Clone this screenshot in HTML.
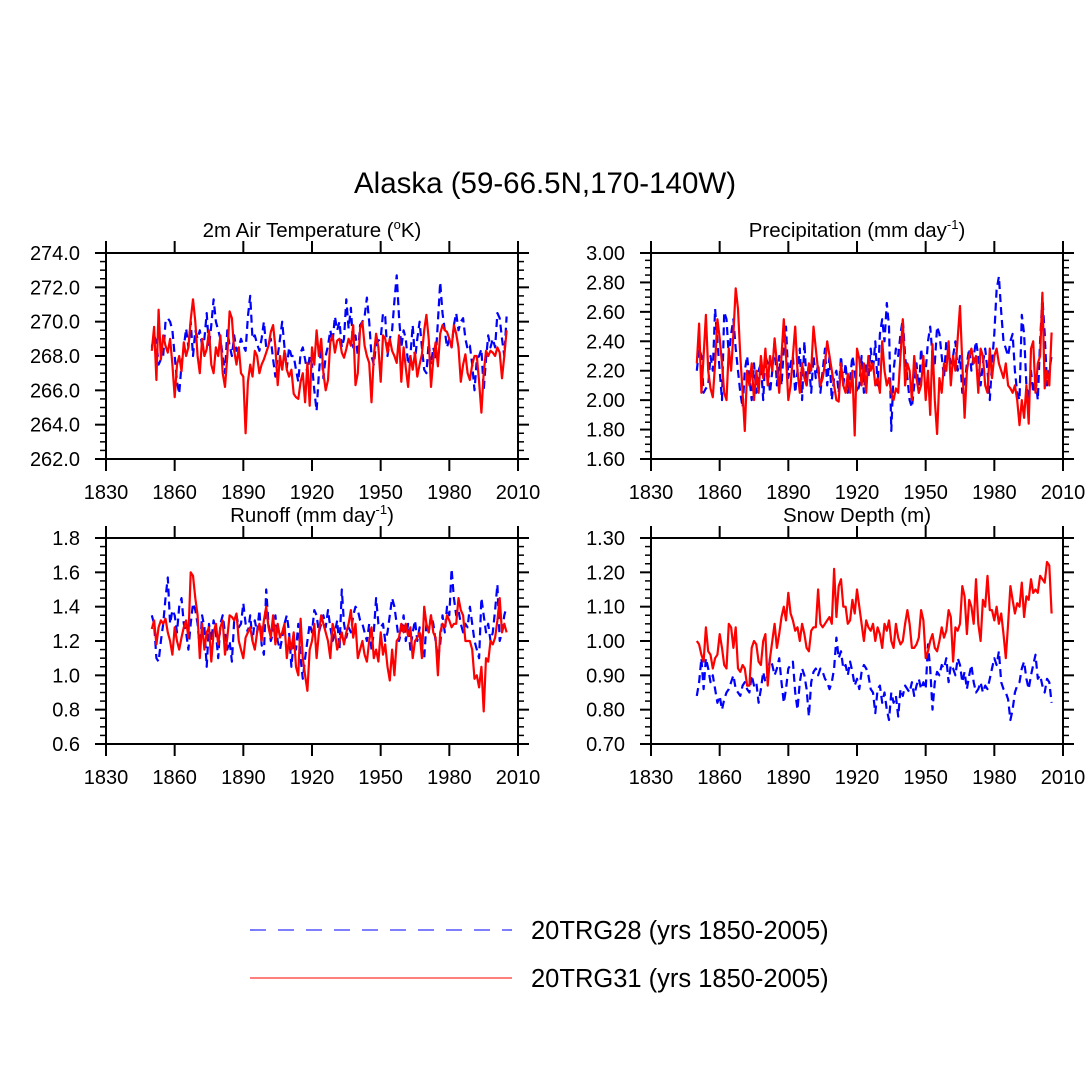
<!DOCTYPE html>
<html><head><meta charset="utf-8"><style>
html,body{margin:0;padding:0;background:#fff;overflow:hidden;width:1090px;height:1090px;}
svg{display:block;}
svg text{font-family:"Liberation Sans",sans-serif;fill:#000;}
</style></head><body>
<svg id="chart" width="1090" height="1090" viewBox="0 0 1090 1090" xmlns="http://www.w3.org/2000/svg">
<rect width="1090" height="1090" fill="#fff"/>
<text x="545" y="193" font-size="29.5" text-anchor="middle">Alaska (59-66.5N,170-140W)</text>
<g>
<line x1="250" y1="930" x2="512" y2="930" stroke="#3030ff" stroke-width="1.3" stroke-dasharray="16 12"/>
<text x="531" y="939" font-size="25.5">20TRG28 (yrs 1850-2005)</text>
<line x1="250" y1="978" x2="512" y2="978" stroke="#ff3030" stroke-width="1.3"/>
<text x="531" y="987" font-size="25.5">20TRG31 (yrs 1850-2005)</text>
</g>
<g id="panels"></g>
</svg>
<script>
const startYear = 1850;
const tempBlue = [268.5,269.2,268.8,267.5,267.8,268.0,270.0,270.2,270.0,269.5,268.0,266.5,265.8,267.5,268.5,269.6,268.5,270.0,268.0,269.5,269.0,269.5,268.6,269.0,270.5,268.5,269.8,271.3,270.0,269.5,269.0,268.0,267.0,269.5,268.6,268.0,269.2,268.3,268.5,269.0,268.6,268.3,270.3,271.5,269.0,269.2,268.7,268.3,269.0,270.0,268.5,268.7,269.0,267.8,266.8,268.0,269.0,270.0,268.5,267.3,268.5,268.0,268.0,267.2,266.5,268.2,268.5,267.8,267.0,268.0,267.5,266.0,264.8,267.0,268.5,266.7,268.0,268.6,269.5,268.8,270.3,269.5,270.0,268.5,269.0,271.3,269.6,270.8,268.5,269.2,268.0,269.8,270.0,270.3,271.4,270.0,268.0,267.5,268.7,268.9,269.0,270.5,270.3,268.0,269.0,269.5,271.2,272.7,270.3,268.5,269.5,269.0,267.5,268.0,269.8,267.8,269.0,270.0,268.5,267.2,267.0,268.8,267.5,268.5,267.8,270.0,272.3,270.5,269.5,268.5,269.0,268.5,269.8,270.5,269.5,270.0,270.2,269.0,268.4,268.6,267.5,266.0,267.8,268.0,268.4,266.0,267.8,269.2,268.5,269.0,268.5,270.5,270.2,269.0,268.0,270.3];
const tempRed = [268.3,269.7,266.6,270.7,267.8,269.2,268.6,268.2,269.0,267.5,265.6,267.5,268.0,267.1,268.8,268.0,268.5,270.1,271.3,270.0,268.0,267.0,269.0,268.0,268.4,269.5,267.5,267.0,268.5,268.0,269.2,267.0,266.2,268.0,270.6,270.2,268.3,267.5,268.5,267.0,266.8,263.5,266.5,267.5,266.8,268.3,268.0,267.0,267.5,267.8,268.2,268.6,269.4,269.8,268.5,266.3,268.0,267.2,268.3,267.2,266.8,267.2,265.8,265.6,265.5,266.5,267.0,265.3,267.6,265.1,268.5,267.5,269.5,268.0,269.0,267.0,266.0,266.6,268.8,269.2,268.2,268.9,269.0,268.2,267.9,268.4,269.0,268.6,269.8,266.3,267.0,269.6,270.0,268.6,268.0,267.6,265.3,268.0,269.3,268.5,266.5,269.2,269.0,268.2,269.0,268.3,268.0,267.6,269.2,266.5,268.5,267.3,266.2,268.0,267.2,268.2,266.8,267.5,268.1,269.5,270.4,269.0,266.2,267.8,268.8,267.4,269.3,269.8,269.5,269.4,269.0,268.5,269.8,269.3,268.5,266.5,267.5,268.1,267.0,266.6,267.5,268.0,268.0,266.5,264.7,267.0,268.3,268.0,268.3,268.2,268.0,268.5,268.2,266.7,268.0,269.5];
const precBlue = [2.2,2.35,2.3,2.05,2.08,2.1,2.3,2.2,2.62,2.4,2.2,2.0,2.6,2.55,2.3,2.45,2.55,2.35,2.2,2.05,1.95,2.2,2.3,2.15,2.0,2.25,2.05,2.2,2.25,2.0,2.3,2.25,2.05,2.2,2.4,2.1,2.3,2.1,2.35,2.5,2.15,2.25,2.3,2.05,2.2,2.35,2.0,2.4,2.1,2.25,2.05,2.3,2.15,2.25,2.05,2.2,2.35,2.1,2.3,2.0,2.15,2.2,2.05,2.3,2.1,2.25,2.05,2.15,2.3,2.2,2.05,2.1,2.3,2.05,2.25,2.15,2.35,2.2,2.4,2.1,2.45,2.55,2.4,2.66,2.5,1.79,2.2,2.35,2.3,2.45,2.55,2.3,2.15,2.0,1.95,2.1,2.25,2.05,2.35,2.2,2.2,2.4,2.5,2.3,2.25,2.5,2.45,2.3,2.15,2.4,2.35,2.25,2.3,2.4,2.2,2.3,2.05,2.1,2.25,2.35,2.2,2.3,2.4,2.3,2.1,2.25,2.35,2.2,2.0,2.25,2.45,2.75,2.84,2.6,2.4,2.35,2.3,2.4,2.45,2.2,2.05,2.0,2.58,2.45,2.1,2.0,2.2,2.05,2.15,2.0,2.4,2.7,2.45,2.1,2.2,2.3];
const precRed = [2.25,2.52,2.05,2.3,2.58,2.2,2.08,2.02,2.25,2.55,2.42,2.25,2.05,2.0,2.35,2.2,2.45,2.76,2.62,2.3,2.05,1.79,2.2,2.1,2.25,2.0,2.2,2.05,2.3,2.15,2.35,2.1,2.3,2.2,2.42,2.25,2.05,2.3,2.55,2.3,2.0,2.1,2.3,2.5,2.2,2.05,2.25,2.15,2.1,2.25,2.2,2.5,2.35,2.2,2.1,2.15,2.25,2.4,2.3,2.2,2.1,2.0,1.99,2.25,2.1,2.05,2.18,2.05,2.2,1.76,2.35,2.28,2.1,2.25,2.05,2.3,2.2,2.25,2.1,2.15,2.05,2.4,2.2,2.1,2.15,2.05,2.0,2.08,2.05,2.3,2.55,2.1,2.25,2.2,2.0,2.3,2.15,2.05,2.1,2.3,2.0,2.2,1.9,2.38,2.0,1.77,2.15,2.05,2.25,2.2,2.4,2.1,2.3,2.2,2.42,2.64,2.25,1.88,2.2,2.3,2.35,2.25,2.3,2.05,2.35,2.3,2.1,2.05,2.35,2.15,2.3,2.35,2.25,2.2,2.15,2.25,2.1,2.08,2.05,2.1,2.0,1.83,2.0,1.88,2.1,1.84,2.35,2.4,2.05,2.25,2.3,2.73,2.08,2.2,2.1,2.46];
const runBlue = [1.35,1.3,1.1,1.08,1.2,1.3,1.45,1.57,1.3,1.38,1.35,1.25,1.4,1.45,1.3,1.25,1.15,1.3,1.42,1.38,1.3,1.15,1.35,1.28,1.05,1.3,1.2,1.32,1.25,1.1,1.3,1.35,1.25,1.15,1.2,1.08,1.32,1.35,1.28,1.3,1.42,1.3,1.25,1.35,1.2,1.32,1.25,1.38,1.18,1.12,1.5,1.3,1.2,1.25,1.35,1.2,1.15,1.22,1.3,1.35,1.25,1.05,1.2,1.15,1.3,1.1,0.98,1.1,1.2,1.3,1.25,1.38,1.35,1.25,1.3,1.35,1.28,1.38,1.28,1.2,1.25,1.32,1.15,1.5,1.3,1.22,1.28,1.25,1.35,1.4,1.38,1.32,1.3,1.25,1.2,1.3,1.15,1.25,1.45,1.3,1.28,1.3,1.2,1.25,1.35,1.45,1.4,1.3,1.2,1.25,1.35,1.2,1.3,1.15,1.25,1.32,1.2,1.28,1.15,1.1,1.3,1.25,1.35,1.3,1.2,1.1,1.18,1.35,1.25,1.4,1.35,1.62,1.45,1.35,1.38,1.3,1.25,1.3,1.28,1.4,1.3,1.2,1.15,1.1,1.45,1.35,1.25,1.3,1.2,1.25,1.38,1.53,1.2,1.25,1.35,1.4];
const runRed = [1.27,1.32,1.18,1.28,1.32,1.3,1.33,1.25,1.2,1.12,1.28,1.2,1.15,1.22,1.28,1.32,1.22,1.6,1.58,1.45,1.35,1.1,1.3,1.15,1.25,1.28,1.08,1.25,1.3,1.18,1.28,1.32,1.12,1.22,1.35,1.34,1.32,1.36,1.2,1.15,1.1,1.22,1.25,1.28,1.2,1.15,1.25,1.3,1.2,1.32,1.4,1.28,1.22,1.35,1.18,1.3,1.22,1.25,1.3,1.1,1.22,1.15,1.25,1.05,1.0,1.33,1.1,1.0,0.91,1.15,1.2,1.3,1.1,1.25,1.35,1.3,1.25,1.2,1.1,1.3,1.25,1.15,1.2,1.25,1.18,1.25,1.3,1.38,1.22,1.3,1.1,1.15,1.2,1.12,1.08,1.2,1.28,1.1,1.15,1.08,1.25,1.12,1.18,1.05,0.97,1.15,1.0,1.2,1.22,1.3,1.25,1.3,1.23,1.28,1.1,1.2,1.22,1.25,1.1,1.4,1.3,1.25,1.35,1.25,1.22,1.0,1.25,1.3,1.28,1.35,1.32,1.28,1.3,1.3,1.45,1.38,1.35,1.2,1.2,1.2,1.15,0.98,1.0,0.93,1.05,0.79,1.1,1.08,1.2,1.18,1.22,1.32,1.45,1.25,1.3,1.25];
const snowBlue = [0.84,0.88,0.95,0.86,0.95,0.92,0.88,0.90,0.86,0.82,0.84,0.80,0.83,0.85,0.86,0.88,0.90,0.86,0.85,0.84,0.87,0.88,0.86,0.85,0.90,0.87,0.88,0.82,0.86,0.91,0.88,0.90,0.95,0.93,0.90,0.92,0.95,0.88,0.82,0.86,0.92,0.93,0.94,0.85,0.80,0.88,0.92,0.90,0.86,0.78,0.88,0.91,0.92,0.90,0.92,0.91,0.89,0.88,0.86,0.88,0.92,1.01,0.95,0.97,0.92,0.93,0.90,0.94,0.91,0.87,0.89,0.86,0.91,0.93,0.92,0.90,0.86,0.85,0.79,0.86,0.87,0.82,0.85,0.80,0.77,0.85,0.82,0.84,0.78,0.86,0.84,0.87,0.86,0.85,0.88,0.84,0.87,0.89,0.86,0.88,0.86,0.99,0.92,0.80,0.88,0.91,0.90,0.93,0.92,0.95,0.88,0.93,0.92,0.90,0.95,0.93,0.88,0.91,0.86,0.90,0.93,0.88,0.85,0.86,0.88,0.85,0.87,0.86,0.89,0.92,0.95,0.93,0.97,0.88,0.86,0.85,0.83,0.77,0.80,0.85,0.87,0.88,0.92,0.94,0.89,0.86,0.90,0.93,0.96,0.89,0.90,0.87,0.85,0.89,0.88,0.82];
const snowRed = [1.00,0.99,0.96,0.94,1.04,0.97,0.96,0.92,0.95,0.96,1.02,0.98,0.93,0.92,1.05,1.04,0.98,1.04,0.92,0.91,0.93,0.92,0.87,0.87,0.98,1.00,0.99,0.94,0.93,1.00,1.02,0.87,0.95,1.00,1.05,0.98,1.02,1.07,1.10,1.06,1.14,1.08,1.06,1.03,1.04,1.00,1.05,1.02,0.98,0.97,1.03,1.04,1.04,1.15,1.05,1.04,1.05,1.06,1.07,1.05,1.21,1.07,1.16,1.18,1.10,1.10,1.05,1.06,1.12,1.08,1.15,1.10,1.05,1.00,1.06,1.04,1.03,1.05,1.00,1.04,1.02,0.98,1.05,1.03,1.06,1.00,0.98,1.05,1.01,0.99,1.00,1.05,1.09,1.05,0.98,0.98,0.99,1.01,1.09,1.06,0.95,0.97,1.00,1.02,0.98,0.97,1.00,1.04,1.01,1.03,1.09,1.07,0.94,1.04,1.03,1.05,1.16,1.13,1.02,1.12,1.10,1.05,1.18,1.05,1.00,1.12,1.10,1.19,1.09,1.09,1.06,1.10,1.05,1.08,1.02,0.95,1.05,1.16,1.12,1.08,1.11,1.10,1.17,1.07,1.13,1.12,1.18,1.14,1.15,1.14,1.19,1.18,1.17,1.23,1.22,1.08];
const xTicks = [1830,1860,1890,1920,1950,1980,2010];
const tempTicks = [262,264,266,268,270,272,274];
const precTicks = [1.6,1.8,2.0,2.2,2.4,2.6,2.8,3.0];
const runTicks = [0.6,0.8,1.0,1.2,1.4,1.6,1.8];
const snowTicks = [0.7,0.8,0.9,1.0,1.1,1.2,1.3];

const NS = "http://www.w3.org/2000/svg";
const root = document.getElementById('panels');
function mk(tag, attrs, parent){const e=document.createElementNS(NS,tag);for(const k in attrs)e.setAttribute(k,attrs[k]);parent.appendChild(e);return e;}

const panels = [
 {key:'temp', x0:106, y0:253, ticks:tempTicks, dec:1, blue:tempBlue, red:tempRed, title:'2m Air Temperature (', sup:'o', tail:'K)'},
 {key:'precip', x0:651, y0:253, ticks:precTicks, dec:2, blue:precBlue, red:precRed, title:'Precipitation (mm day', sup:'-1', tail:')'},
 {key:'runoff', x0:106, y0:538, ticks:runTicks, dec:1, blue:runBlue, red:runRed, title:'Runoff (mm day', sup:'-1', tail:')'},
 {key:'snow', x0:651, y0:538, ticks:snowTicks, dec:2, blue:snowBlue, red:snowRed, title:'Snow Depth (m)', sup:'', tail:''}
];
const W=412, H=206;
panels.forEach(p=>{
  const g = mk('g',{},root);
  
  
  const ymin=p.ticks[0], ymax=p.ticks[p.ticks.length-1];
  const xs = yr => p.x0 + (yr-1830)/180*W;
  const ys = v => p.y0 + H - (v-ymin)/(ymax-ymin)*H;
  const t = mk('text',{x:p.x0+W/2,y:p.y0-16,'font-size':20.5,'text-anchor':'middle'},g);
  
  
  t.appendChild(document.createTextNode(p.title));
  if(p.sup){const s=mk('tspan',{'font-size':13,dy:-8},t);s.textContent=p.sup;const r=mk('tspan',{'font-size':20.5,dy:8},t);r.textContent=p.tail;}
  [['blue',p.blue,'#0000ff','8 5'],['red',p.red,'#ff0000','']].forEach(([nm,arr,col,dash])=>{
    const pts = arr.map((v,i)=>xs(startYear+i).toFixed(1)+','+ys(v).toFixed(1)).join(' ');
    const pl = mk('polyline',{points:pts,fill:'none',stroke:col,'stroke-width':2.2,'stroke-linejoin':'round'},g);
    if(dash) pl.setAttribute('stroke-dasharray',dash);
    
    
  });
  const fr = mk('rect',{x:p.x0,y:p.y0,width:W,height:H,fill:'none',stroke:'#000','stroke-width':2},g);
  
  
  xTicks.forEach(yr=>{
    const x=xs(yr);
    mk('line',{x1:x,y1:p.y0,x2:x,y2:p.y0-12,stroke:'#000','stroke-width':2},g);
    mk('line',{x1:x,y1:p.y0+H,x2:x,y2:p.y0+H+12,stroke:'#000','stroke-width':2},g);
    const l=mk('text',{x:x,y:p.y0+H+40,'font-size':20,'text-anchor':'middle'},g);
    
    
    l.textContent=yr;
  });
  const step=p.ticks[1]-p.ticks[0];
  for(let i=0;i<p.ticks.length;i++){
    const v=p.ticks[i], y=ys(v);
    mk('line',{x1:p.x0,y1:y,x2:p.x0-11,y2:y,stroke:'#000','stroke-width':2},g);
    mk('line',{x1:p.x0+W,y1:y,x2:p.x0+W+11,y2:y,stroke:'#000','stroke-width':2},g);
    const l=mk('text',{x:p.x0-26,y:y+7,'font-size':20,'text-anchor':'end'},g);
    
    
    l.textContent=v.toFixed(p.dec);
    if(i<p.ticks.length-1){
      for(let k=1;k<4;k++){
        const ym=ys(v+step*k/4);
        mk('line',{x1:p.x0,y1:ym,x2:p.x0-6,y2:ym,stroke:'#000','stroke-width':1.5},g);
        mk('line',{x1:p.x0+W,y1:ym,x2:p.x0+W+6,y2:ym,stroke:'#000','stroke-width':1.5},g);
      }
    }
  }
});
</script>
</body></html>
